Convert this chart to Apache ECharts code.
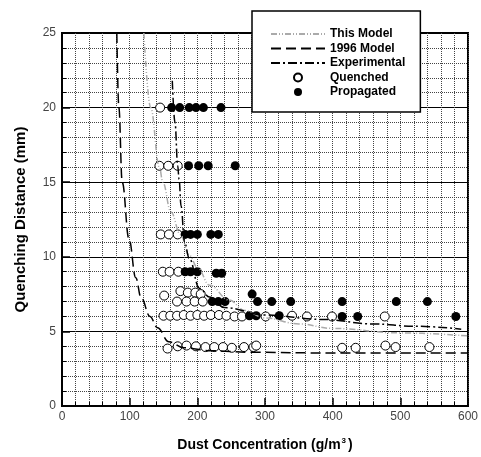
<!DOCTYPE html>
<html>
<head>
<meta charset="utf-8">
<title>Quenching Distance</title>
<style>
  * { margin: 0; padding: 0; }
  body { background: #fff; }
  #chart { width: 481px; height: 457px; }
</style>
</head>
<body>
<div id="chart"></div>
<script src="https://cdn.jsdelivr.net/npm/echarts@6/dist/echarts.min.js"></script>
<script>
// curves: [concentration, distance]
var thisModel = [[121,25],[131,20],[144,16],[149,15],[161,13],[175,11.5],[188,10.1],[200,9.3],[218,8.1],
  [247,7.1],[270,6.4],[300,5.9],[350,5.5],[400,5.2],[500,4.9],[600,4.7]];
var model1996 = [[81,25],[84,20],[89,15],[99,11.2],[109,8.6],[117,7.25],[130,6],[141,5.25],[158,4.3],
  [180,3.9],[220,3.7],[280,3.6],[400,3.55],[600,3.55]];
var experimental = [[163,21.8],[167,19],[171,16.1],[173,15.2],[176,13.4],[181,11],[188,9.9],[203,7.9],
  [218,7.3],[240,6.6],[300,6.1],[385,5.8],[460,5.5],[520,5.35],[590,5.15]];

var quenched = [[145,20],[144,16.1],[157,16.1],[171,16.1],[146,11.5],[158,11.5],[171,11.5],
  [149,9],[159,9],[172,9],[151,7.4],[175,7.7],[186,7.6],[197,7.6],[205,7.5],
  [170,7],[184,7],[196,7],[208,7],
  [150,6.05],[160,6.05],[170,6.05],[180,6.1],[190,6.05],[200,6.1],[210,6.05],[220,6.1],
  [232,6.1],[243,6.05],[255,6],[266,6],[301,6],[340,6.05],[362,6],[399,6],[477,6],
  [156,3.85],[171,4],[184,4.05],[198,4],[212,3.95],[225,3.95],[238,3.95],[251,3.9],
  [269,3.95],[283,3.95],[287,4.05],[414,3.9],[434,3.9],[478,4.05],[493,3.95],[543,3.95]];
var propagated = [[162,20],[174,20],[188,20],[198,20],[209,20],[235,20],
  [187,16.1],[202,16.1],[216,16.1],[256,16.1],
  [182,11.5],[190,11.5],[200,11.5],[220,11.5],[231,11.5],
  [182,9],[190,9],[200,9],[228,8.9],[236,8.9],
  [281,7.5],[222,7],[231,7],[241,7],[289,7],[310,7],[338,7],[414,7],[494,7],[540,7],
  [277,6.05],[287,6.05],[321,6.05],[414,6],[437,6],[582,6]];

var names = ['This Model', '1996 Model', 'Experimental', 'Quenched', 'Propagated'];

var font = 'Liberation Sans, Arial, sans-serif';
var chart = echarts.init(document.getElementById('chart'));

// line entries in the legend: only the line, no marker
var legendData = names.map(function (n, i) {
  return i < 3 ? { name: n, itemStyle: { opacity: 0 } } : { name: n };
});

chart.setOption({
  animation: false,
  backgroundColor: '#fff',
  grid: {
    left: 62, right: 12, top: 33, bottom: 48,
    show: true, borderColor: '#000', borderWidth: 2
  },
  legend: {
    data: legendData,
    orient: 'vertical',
    left: 252, top: 11,
    padding: [17, 15, 14, 18],
    itemWidth: 54, itemHeight: 8, itemGap: 2.5,
    backgroundColor: '#fff',
    borderColor: '#000', borderWidth: 1.5,
    textStyle: { fontFamily: font, fontWeight: 'bold', fontSize: 12, lineHeight: 12, color: '#000' },
    z: 10
  },
  xAxis: {
    type: 'value', min: 0, max: 600, interval: 100,
    name: 'Dust Concentration (g/m{sup|3})',
    nameLocation: 'middle', nameGap: 31,
    nameTextStyle: {
      fontFamily: font, fontWeight: 'bold', fontSize: 14, color: '#000',
      rich: { sup: { fontSize: 8, fontWeight: 'bold', verticalAlign: 'top', padding: [0, 2, 8, 1] } }
    },
    axisLine: { lineStyle: { color: '#000', width: 2 } },
    axisTick: { inside: true, length: 8, lineStyle: { color: '#000', width: 1.5 } },
    minorTick: { show: true, splitNumber: 5, length: 4, lineStyle: { color: '#000' } },
    axisLabel: { fontFamily: font, fontSize: 12, color: '#444', margin: 5 },
    splitLine: { show: true, lineStyle: { color: '#444', type: 'dotted', width: 1 } },
    minorSplitLine: { show: true, lineStyle: { color: '#444', type: 'dotted', width: 1 } }
  },
  yAxis: {
    type: 'value', min: 0, max: 25, interval: 5,
    name: 'Quenching Distance (mm)',
    nameLocation: 'middle', nameGap: 34,
    nameTextStyle: { fontFamily: font, fontWeight: 'bold', fontSize: 15, color: '#000' },
    axisLine: { lineStyle: { color: '#000', width: 2 } },
    axisTick: { inside: true, length: 8, lineStyle: { color: '#000', width: 1.5 } },
    minorTick: { show: true, splitNumber: 5, length: 4, lineStyle: { color: '#000' } },
    axisLabel: { fontFamily: font, fontSize: 12, color: '#444', margin: 6 },
    splitLine: { show: true, lineStyle: { color: '#000', width: 1 } },
    minorSplitLine: { show: true, lineStyle: { color: '#444', type: 'dotted', width: 1 } }
  },
  series: [
    {
      name: names[0], type: 'line', data: thisModel, symbol: 'none',
      smooth: 0.4, smoothMonotone: 'x',
      lineStyle: { color: '#aaa', width: 1.5, type: [6, 2, 1, 2, 1, 2] },
      itemStyle: { color: '#aaa' }
    },
    {
      name: names[1], type: 'line', data: model1996, symbol: 'none',
      smooth: 0.4, smoothMonotone: 'x',
      lineStyle: { color: '#000', width: 1.5, type: [10, 5] },
      itemStyle: { color: '#000' }
    },
    {
      name: names[2], type: 'line', data: experimental, symbol: 'none',
      smooth: 0.4, smoothMonotone: 'x',
      lineStyle: { color: '#000', width: 1.5, type: [9, 3, 2, 3] },
      itemStyle: { color: '#000' }
    },
    {
      name: names[3], type: 'scatter', data: quenched, symbol: 'circle', symbolSize: 9,
      itemStyle: { color: '#fff', borderColor: '#000', borderWidth: 1, opacity: 1 }
    },
    {
      name: names[4], type: 'scatter', data: propagated, symbol: 'circle', symbolSize: 9,
      itemStyle: { color: '#000', opacity: 1 }
    }
  ]
});
</script>
</body>
</html>
